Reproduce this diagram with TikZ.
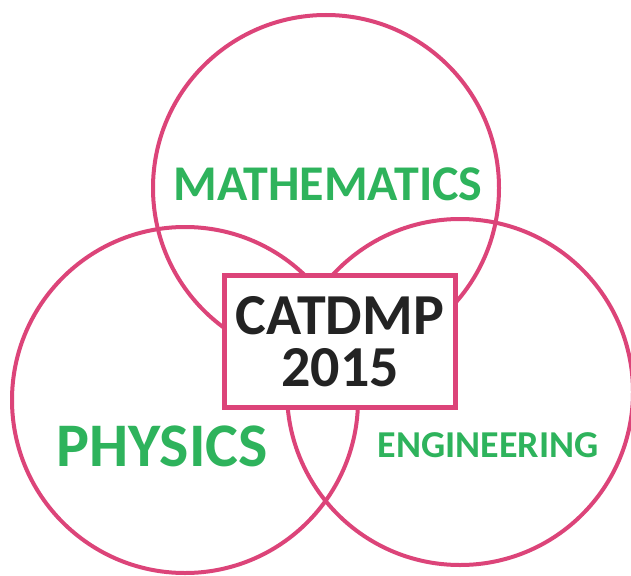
\documentclass[tikz,border=0pt]{standalone}
\usepackage{fontspec}
\setmainfont{Carlito}
\usetikzlibrary{positioning}
\definecolor{rose}{HTML}{DC4479}
\definecolor{leaf}{HTML}{2EB35C}
\definecolor{ink}{HTML}{232323}
\tikzset{
  ring/.style={circle, draw=rose, line width=4pt, minimum size=346pt, inner sep=0pt},
  subj/.style={text=leaf, font=\bfseries, inner sep=0pt},
  tag/.style={draw=rose, line width=5pt, fill=white, minimum width=231pt,
    minimum height=132pt, align=center, text=ink, inner sep=0pt,
    font=\fontsize{58pt}{52pt}\selectfont\bfseries},
}

\begin{document}
\begin{tikzpicture}[x=1pt, y=-1pt]
    \fill[white] (0,0) rectangle (631,575);
    \useasboundingbox (0,0) rectangle (631,575);
    \node[ring] (math) at (326,188) {};
    \node[ring] (phys) at (185,400) {};
    \node[ring] (eng) at (460,392) {};
    \node[subj, font=\fontsize{50pt}{52pt}\selectfont\bfseries] (lmath) at (328,184) {MATHEMATICS};
    \node[subj, font=\fontsize{62pt}{64pt}\selectfont\bfseries] (lphys) at (162,446) {PHYSICS};
    \node[subj, font=\fontsize{38pt}{40pt}\selectfont\bfseries] (leng) at (488,445) {ENGINEERING};
    % centre
    \node[tag] (conf) at (340,341.5) {CATDMP\\2015};
  \end{tikzpicture}
\end{document}
